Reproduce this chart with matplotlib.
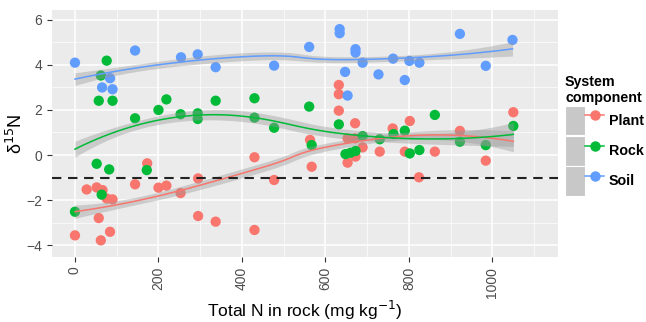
import numpy as np
import matplotlib
matplotlib.use("Agg")
import matplotlib.pyplot as plt
from matplotlib.lines import Line2D
from matplotlib.patches import Rectangle
from matplotlib.legend_handler import HandlerTuple

plt.rcParams['font.family'] = ['Liberation Sans', 'DejaVu Sans']

# data: total N in rock (mg/kg) and d15N
plant_x = [0, 28, 52, 57, 62, 66, 76, 84, 90, 144, 173, 200, 219, 253, 295, 295, 337,
           430, 430, 477, 563, 567, 632, 632, 632, 653, 653, 671, 671, 672, 689, 730,
           761, 790, 802, 824, 862, 922, 984, 1050]
plant_y = [-3.57, -1.53, -1.44, -2.8, -3.79, -1.56, -1.93, -3.41, -1.97, -1.3, -0.37,
           -1.45, -1.36, -1.69, -1.04, -2.71, -2.96, -0.10, -3.33, -1.11, 0.67, -0.52,
           3.11, 2.70, 1.97, 0.74, -0.34, 1.41, 0.74, -0.07, 0.34, 0.15, 1.18, 0.15,
           1.51, -0.99, 0.15, 1.07, -0.25, 1.9]

rock_x = [0, 52, 57, 62, 64, 76, 82, 90, 144, 172, 200, 219, 253, 294, 294, 337, 430,
          430, 477, 561, 567, 632, 648, 660, 672, 689, 730, 763, 790, 802, 825, 862,
          922, 984, 1050]
rock_y = [-2.52, -0.39, 2.41, 3.53, -1.76, 4.19, -0.64, 2.41, 1.63, -0.67, 2.0, 2.47,
          1.81, 1.85, 1.6, 2.41, 2.52, 1.66, 1.21, 2.15, 0.44, 1.36, 0.04, 0.10, 0.18,
          0.84, 0.70, 0.93, 1.08, 0.07, 0.22, 1.78, 0.59, 0.44, 1.29]

soil_x = [0, 65, 84, 90, 144, 254, 294, 337, 477, 561, 634, 634, 647, 653, 672, 672,
          689, 727, 762, 790, 801, 825, 922, 984, 1048]
soil_y = [4.1, 3.0, 3.41, 2.92, 4.64, 4.34, 4.47, 3.9, 3.97, 4.8, 5.59, 5.41, 3.69,
          2.64, 4.7, 4.55, 4.1, 3.58, 4.28, 3.33, 4.18, 4.1, 5.38, 3.96, 5.11]

groups = ["Plant", "Rock", "Soil"]
colors = ["#F8766D", "#00BA38", "#619CFF"]
reference_line = -1


def loess(x, y, xs, span=1.0):
    # local quadratic fit with tricube weights
    x = np.asarray(x, float)
    y = np.asarray(y, float)
    n = len(x)
    q = min(n, int(np.floor(n * span)))

    def weights_row(x0):
        d = np.abs(x - x0)
        h = np.sort(d)[q - 1] * max(1.0, span) * 1.0001
        w = np.clip(1 - (d / h) ** 3, 0, None) ** 3
        X = np.column_stack([np.ones(n), x - x0, (x - x0) ** 2])
        A = X.T @ (w[:, None] * X)
        return np.linalg.solve(A, (X * w[:, None]).T)[0]

    L = np.array([weights_row(v) for v in x])
    resid = y - L @ y
    delta = n - 2 * np.trace(L) + np.trace(L.T @ L)
    sigma = np.sqrt(np.sum(resid ** 2) / delta)

    rows = np.array([weights_row(v) for v in xs])
    fit = rows @ y
    se = sigma * np.sqrt(np.sum(rows ** 2, axis=1))
    return fit, se


fig = plt.figure(figsize=(6.46, 3.22), dpi=100)
ax = fig.add_axes([52 / 646, 1 - 257 / 322, 506 / 646, 247 / 322])
ax.set_facecolor("#EBEBEB")

series = [(plant_x, plant_y), (rock_x, rock_y), (soil_x, soil_y)]

for (xv, yv), c in zip(series, colors):
    xs = np.linspace(min(xv), max(xv), 80)
    fit, se = loess(xv, yv, xs)
    band = 0.6 * se
    ax.fill_between(xs, fit - band, fit + band, color="#999999",
                    alpha=0.4, lw=0, zorder=3)
    ax.plot(xs, fit, color=c, lw=1.1, zorder=4)

for (xv, yv), c in zip(series, colors):
    ax.scatter(xv, yv, s=55, color=c, edgecolors="none", zorder=2)

ax.axhline(reference_line, color="#222222", lw=1.5, dashes=(4.5, 3.2), zorder=5)

ax.set_xlim(-55, 1157)
ax.set_ylim(-4.53, 6.44)
ax.set_xticks([0, 200, 400, 600, 800, 1000])
ax.set_xticks([100, 300, 500, 700, 900, 1100], minor=True)
ax.set_yticks([-4, -2, 0, 2, 4, 6])
ax.set_yticks([-3, -1, 1, 3, 5], minor=True)
ax.grid(which="major", color="white", lw=1.1, zorder=0)
ax.grid(which="minor", color="white", lw=0.5, zorder=0)
ax.set_axisbelow(True)
for s in ax.spines.values():
    s.set_visible(False)
ax.tick_params(which="major", length=3.5, color="#333333", labelsize=10,
               labelcolor="#4D4D4D", width=0.8)
ax.tick_params(which="minor", length=0)
plt.setp(ax.get_xticklabels(), rotation=90)

ax.set_xlabel("Total N in rock (mg kg$^{-1}$)", fontsize=12.5, labelpad=1)
ax.set_ylabel("δ$^{15}$N", fontsize=13, labelpad=0)

handles = []
for c in colors:
    box = Rectangle((0, 0), 1, 1, facecolor="#C8C8C8", edgecolor="white", lw=0.8)
    ln = Line2D([], [], color=c, lw=1.1, marker="o", markersize=7.5,
                markeredgewidth=0)
    handles.append((box, ln))

leg = fig.legend(handles, groups, title="System\ncomponent",
                 loc="upper left", bbox_to_anchor=(565 / 646, 1 - 75 / 322),
                 frameon=False, fontsize=10.3, title_fontsize=10.3,
                 handlelength=2.75, handleheight=2.8, labelspacing=0.05,
                 handletextpad=0.3, borderpad=0, borderaxespad=0,
                 alignment="left",
                 handler_map={tuple: HandlerTuple(ndivide=None, pad=0)})
leg.get_title().set_fontweight("bold")
for t in leg.get_texts():
    t.set_fontweight("bold")

fig.savefig("out.png", dpi=100)
